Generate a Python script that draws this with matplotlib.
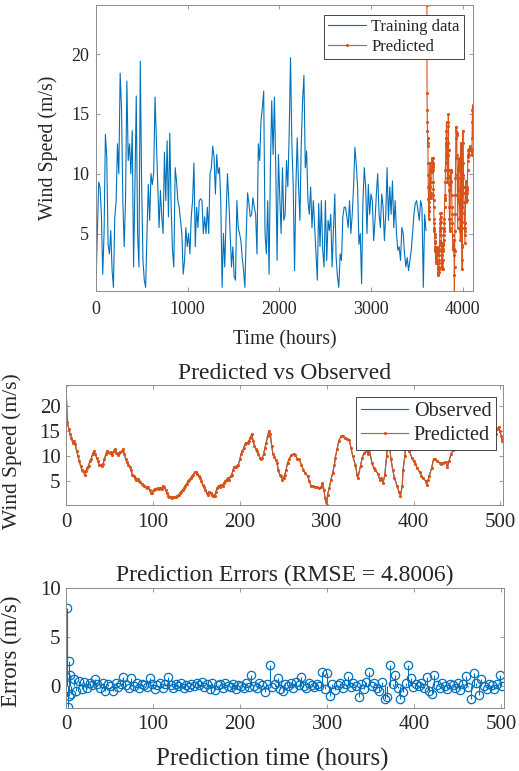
import matplotlib.pyplot as plt
import numpy as np

plt.rcParams["font.family"] = ["Liberation Serif", "DejaVu Serif"]

BLUE = "#0072BD"
ORANGE = "#D95319"
FRAME = "#8c8c8c"
TEXT = "#262626"

# ---- training data (hours 0..3600) ----
train_speed = [
    0.8, 5.0, 9.3, 8.9, 6.6, 1.6, 5.0, 13.3, 11.4, 4.1,
    3.3, 5.25, 1.9, 0.5, 6.4, 7.75, 12.5, 10.0, 18.4, 15.5,
    7.75, 3.9, 7.75, 17.75, 11.1, 12.5, 10.0, 13.6, 2.2, 8.9,
    16.5, 5.0, 2.2, 19.4, 9.1, 2.75, 1.1, 0.5, 5.0, 9.1,
    6.1, 10.0, 9.1, 10.1, 16.4, 12.75, 8.9, 5.5, 8.6, 6.4,
    5.0, 11.8, 7.75, 12.75, 6.4, 13.4, 7.2, 3.6, 2.2, 10.5,
    9.4, 7.75,
    7.2, 6.1, 5.0, 1.6, 2.75, 5.5, 3.9, 5.0, 3.3, 6.4,
    7.75, 10.9, 3.9, 7.2, 5.5, 7.75, 7.9, 7.75, 5.0, 6.4,
    5.0, 7.2, 5.0, 10.0, 10.5, 12.3, 11.4, 8.3, 11.6, 10.0,
    10.5, 7.75, 0.5, 5.0, 2.2, 6.6, 10.0, 7.75, 5.0, 2.2,
    3.9, 1.4, 1.1, 7.75, 5.5, 5.0, 4.4, 3.0, 1.9, 0.5,
    5.0, 8.4, 7.5, 6.4, 6.6, 8.0, 7.2, 6.6, 3.3, 12.5,
    11.1, 14.4, 15.5,
    16.9, 5.0, 3.3, 7.75, 1.6, 10.5, 16.1, 11.6, 16.4, 10.5,
    2.75, 11.6, 8.0, 5.0, 10.5, 6.1, 6.6, 11.1, 8.9, 13.3,
    19.7, 12.5, 9.1, 1.9, 8.9, 13.0, 8.9, 6.1, 12.5, 16.1,
    18.2, 10.5, 11.9, 7.75, 6.6, 8.9, 5.5, 7.75, 5.5, 3.3,
    1.1, 7.5, 3.9, 7.75, 3.6, 2.2, 7.75, 2.75, 6.1, 5.25,
    6.6, 2.2, 5.25, 8.3, 3.0, 1.4, 0.5, 3.3, 2.75, 6.4,
    7.2, 7.2, 6.4, 5.5,
    7.75, 5.0, 6.6, 8.9, 12.2, 10.8, 8.9, 4.1, 5.0, 0.8,
    7.75, 10.5, 8.9, 5.0, 9.1, 6.6, 8.3, 7.75, 4.4, 6.1,
    8.3, 10.0, 6.6, 5.5, 8.3, 7.2, 4.4, 6.6, 10.5, 6.1,
    8.9, 6.6, 9.4, 5.5, 7.75, 5.0, 3.6, 3.9, 2.75, 5.5,
    5.0, 3.3, 2.2, 3.0, 1.9, 2.75, 3.6, 5.0, 6.6, 7.5,
    7.75, 6.9, 6.1, 7.75, 7.2, 0.5, 6.6, 5.25,
]
train_hours = np.linspace(0, 3600, len(train_speed))
train_end = 3610

# ---- predicted series (prediction hours 0..503) ----
pred_speed_a = [
    24.1, 16.7, 15.3, 14.3, 13.6, 12.6, 13.0, 12.3, 10.9, 9.9,
    8.9, 7.9, 7.2, 6.9, 6.2, 6.9, 7.6, 8.0, 8.9, 9.3,
    10.3, 10.9, 10.3, 9.6, 8.9, 8.2, 8.2, 8.0, 8.4, 9.3,
    10.3, 10.9, 10.7, 10.5, 10.7, 10.1, 10.9, 11.3, 10.6, 10.1,
    10.6, 10.7, 10.9, 11.3, 10.3, 9.3, 8.7, 8.2, 7.8, 7.2,
    6.2, 5.9, 5.5, 5.2, 5.3, 5.0, 4.7, 4.4, 4.2, 3.9,
    3.7, 3.5, 3.7, 3.2, 2.5, 2.6, 3.2, 3.3, 3.3, 3.5,
    3.3, 3.5, 3.3, 3.9, 3.7, 3.2, 2.5, 2.0, 1.7, 1.7,
    1.5, 1.7, 1.7, 1.8, 2.0, 2.2, 2.5, 2.8, 3.2, 3.5,
    4.0, 4.4, 4.9, 5.2, 5.5, 5.9, 6.2, 6.7, 6.7, 6.4,
    6.0, 5.5, 4.9, 4.2, 3.7, 3.2, 2.5, 2.2, 2.8, 2.6,
    2.2, 2.0, 2.0, 2.8, 3.5, 4.0, 3.7, 4.2, 4.0, 4.5,
    4.9, 5.2, 5.5, 5.2, 5.9, 6.2, 7.2, 7.8, 7.8, 8.0,
    8.2, 9.3, 10.3, 10.9, 11.6, 12.3, 12.6, 12.6, 13.0, 13.6,
    14.3, 13.0, 12.0, 11.3, 10.9, 10.3, 9.6, 9.3, 9.6, 10.3,
    11.6, 12.6, 14.0, 15.0, 14.3, 12.0, 10.3, 9.8, 9.1, 8.6,
    7.2, 6.2, 5.9, 5.2, 5.5, 6.2, 7.2, 8.6,
]
pred_hours_a = np.linspace(0, 255, len(pred_speed_a))

pred_hours_b = [
    257, 259, 262, 264, 266, 268, 271, 273, 275, 278,
    280, 282, 284, 287, 289, 291, 294, 295, 297, 298,
    300, 301, 303, 305, 307, 309, 310, 312, 314, 317,
    319, 321, 323, 326, 328, 330, 333, 335, 336, 339,
    341, 343, 346, 348, 349, 352, 354, 356, 359, 361,
    363, 365, 367, 369, 370, 372, 374, 376, 378, 381,
    383, 385, 387, 388, 390, 391, 393, 395, 398, 400,
    402, 404, 407, 409, 411, 414, 415, 417, 418, 421,
    423, 425, 427, 430, 432, 434, 437, 439, 441, 443,
    446, 448, 450, 453, 455, 457, 460, 462, 464, 466,
    469, 471, 473, 476, 478, 480, 482, 485, 487, 489,
    492, 493, 495, 496, 498, 499, 501, 502, 503,
]
pred_speed_b = [
    9.3, 10.1, 10.3, 10.1, 9.4, 9.3, 8.2, 7.2, 6.6, 5.9,
    4.9, 4.0, 3.9, 3.7, 3.7, 3.5, 3.7, 4.5, 3.2, 1.5,
    0.1, 2.2, 3.5, 5.2, 6.6, 8.2, 9.6, 11.3, 13.0, 13.9,
    13.9, 13.6, 13.4, 13.2, 11.6, 9.9, 8.2, 6.2, 5.5, 7.9,
    9.6, 10.5, 10.9, 10.3, 11.3, 8.6, 7.6, 7.1, 6.4, 5.2,
    5.5, 4.5, 6.2, 9.9, 12.0, 12.6, 9.3, 7.2, 5.5, 4.0,
    2.8, 2.0, 3.9, 7.2, 9.9, 12.6, 13.6, 10.9, 9.6, 8.9,
    8.4, 7.6, 6.7, 6.0, 5.5, 4.9, 4.2, 5.2, 5.9, 7.6,
    9.3, 9.4, 8.9, 8.6, 8.4, 8.6, 8.7, 7.8, 8.9, 10.3,
    11.1, 11.4, 11.6, 12.0, 12.0, 12.1, 12.0, 11.6, 12.0, 12.1,
    12.3, 12.1, 12.0, 12.0, 12.1, 12.0, 12.0, 12.1, 12.0, 12.0,
    11.6, 13.0, 14.3, 15.3, 15.7, 15.0, 14.0, 13.0, 13.3,
]
pred_hours = np.concatenate([pred_hours_a, pred_hours_b])
pred_speed = np.concatenate([pred_speed_a, pred_speed_b])
# observed lies under the predicted line at this resolution
obs_speed = pred_speed

# ---- prediction errors ----
err_hours = np.r_[0:6, 6:504:3]
err_vals = [
    1.0, 8.0, -2.1, 2.6, -1.0, 1.2,
    -0.8, 0.8, -0.5, 0.5, -0.3, 0.4, -0.2, 0.3, 0.1, 0.8,
    0.2, -0.2, 0.3, -0.5, 0.2, 0.0, -0.5, 0.3, -0.1, 0.2,
    1.0, 0.1, -0.2, 0.9, 0.0, 0.3, -0.2, 0.2, 0.1, -0.1,
    0.9, 0.2, -0.3, 0.1, 0.3, -0.2, 0.2, 1.0, 0.1, -0.2,
    0.2, 0.0, 0.3, -0.2, 0.1, -0.1, 0.2, 0.0, 0.3, 0.1,
    0.4, -0.1, 0.2, -0.3, 0.3, -0.4, 0.1, 0.2, -0.2, 0.3,
    0.0, -0.1, 0.2, -0.3, 0.1, 0.0, -0.2, 0.3, -0.1, 1.2,
    0.0, -0.2, 0.3, 0.1, -0.6, 0.2, 2.2, -0.1, 0.2, 0.9,
    -0.3, -0.5, 0.2, 0.0, 0.3, -0.2, 0.4, 0.1, 1.0, 0.0,
    -0.2, 0.3, 0.1, -0.1, 0.2, 0.0, 1.5, -0.3, 1.4, -1.0,
    0.2, -0.4, 0.1, 0.3, -0.2, 0.2, 1.1, -0.1, 0.3, 0.0,
    -1.1, 0.2, -0.3, 0.4, 1.5, 0.0, 0.3, -0.2, -0.5, 0.4,
    -1.3, -1.1, 2.2, 0.2, 1.2, -0.2, -1.3, -0.6, 0.3, 2.2,
    0.9, -0.1, 0.2, 0.0, 0.3, -0.2, 1.0, -0.5, -0.8, 1.2,
    0.1, -0.2, 0.3, 0.0, -0.3, 0.2, 0.1, -0.2, 0.3, -0.4,
    0.2, 1.1, -0.1, -1.3, 1.4, 0.3, -0.9, 0.7, 0.0, -0.3,
    0.2, 0.1, -0.3, 0.2, 1.2, 0.0,
]
rmse_text = "Prediction Errors (RMSE = 4.8006)"


def matlab_axes(ax, fs, xpad, ypad):
    ax.tick_params(direction="in", top=True, right=True, length=3, width=0.6,
                   color=FRAME, labelcolor=TEXT, labelsize=fs)
    ax.tick_params(axis="x", pad=xpad)
    ax.tick_params(axis="y", pad=ypad)
    for s in ax.spines.values():
        s.set_color(FRAME)
        s.set_linewidth(0.7)


def legend(ax, fs, anchor):
    leg = ax.legend(loc="upper right", bbox_to_anchor=anchor, fontsize=fs,
                    frameon=True, fancybox=False, framealpha=1,
                    edgecolor=TEXT, handlelength=2.3, handletextpad=0.3,
                    borderpad=0.25, labelspacing=0.25, borderaxespad=0)
    leg.get_frame().set_linewidth(0.6)
    for t in leg.get_texts():
        t.set_color(TEXT)


fig = plt.figure(figsize=(5.19, 7.71), dpi=100)

# ---- top: training data and forecast ----
ax1 = fig.add_axes([0.185, 0.6226, 0.7264, 0.371])
ax1.plot(train_hours, train_speed, color=BLUE, lw=0.8, label="Training data")
ax1.plot(train_end + pred_hours, pred_speed, ".-", color=ORANGE, lw=0.8,
         ms=2.5, label="Predicted")
ax1.set_xlim(0, 4113)
ax1.set_ylim(0.2, 24.1)
ax1.set_xticks([0, 1000, 2000, 3000, 4000])
ax1.set_yticks([5, 10, 15, 20])
matlab_axes(ax1, 13, 7, 5)
ax1.set_xlabel("Time (hours)", fontsize=14.3, color=TEXT)
ax1.set_ylabel("Wind Speed (m/s)", fontsize=14.3, color=TEXT)
ax1.xaxis.set_label_coords(0.5, -0.136)
ax1.yaxis.set_label_coords(-0.10, 0.5)
legend(ax1, 12, (0.976, 0.965))

# ---- middle: predicted vs observed ----
ax2 = fig.add_axes([0.1272, 0.345, 0.842, 0.1556])
ax2.plot(pred_hours, obs_speed, color=BLUE, lw=0.8, label="Observed")
ax2.plot(pred_hours, pred_speed, ".-", color=ORANGE, lw=0.8, ms=2.5,
         label="Predicted")
ax2.set_xlim(0, 503)
ax2.set_ylim(0.1, 24.1)
ax2.set_xticks([0, 100, 200, 300, 400, 500])
ax2.set_yticks([5, 10, 15, 20])
matlab_axes(ax2, 15, 6, 4)
ax2.set_title("Predicted vs Observed", fontsize=17, color=TEXT, y=1.1,
              pad=0, va="center")
ax2.set_ylabel("Wind Speed (m/s)", fontsize=15.5, color=TEXT)
ax2.yaxis.set_label_coords(-0.10, 0.45)
legend(ax2, 14.5, (0.985, 0.9))

# ---- bottom: errors ----
ax3 = fig.add_axes([0.1272, 0.0817, 0.8439, 0.1556])
markers, stems, base = ax3.stem(err_hours, err_vals, linefmt=BLUE,
                                markerfmt="o", basefmt=" ")
markers.set_markerfacecolor("none")
markers.set_markeredgecolor(BLUE)
markers.set_markersize(6)
markers.set_markeredgewidth(0.9)
stems.set_linewidth(0.8)
ax3.set_xlim(0, 503)
ax3.set_ylim(-2.2, 10)
ax3.set_xticks([0, 100, 200, 300, 400, 500])
ax3.set_yticks([0, 5, 10])
matlab_axes(ax3, 15, 5, 4)
ax3.set_title(rmse_text, fontsize=17, color=TEXT, y=1.108, pad=0, va="center")
ax3.set_xlabel("Prediction time (hours)", fontsize=18, color=TEXT)
ax3.set_ylabel("Errors (m/s)", fontsize=16.5, color=TEXT)
ax3.xaxis.set_label_coords(0.47, -0.333)
ax3.yaxis.set_label_coords(-0.10, 0.47)

fig.savefig("out.png", dpi=100)
